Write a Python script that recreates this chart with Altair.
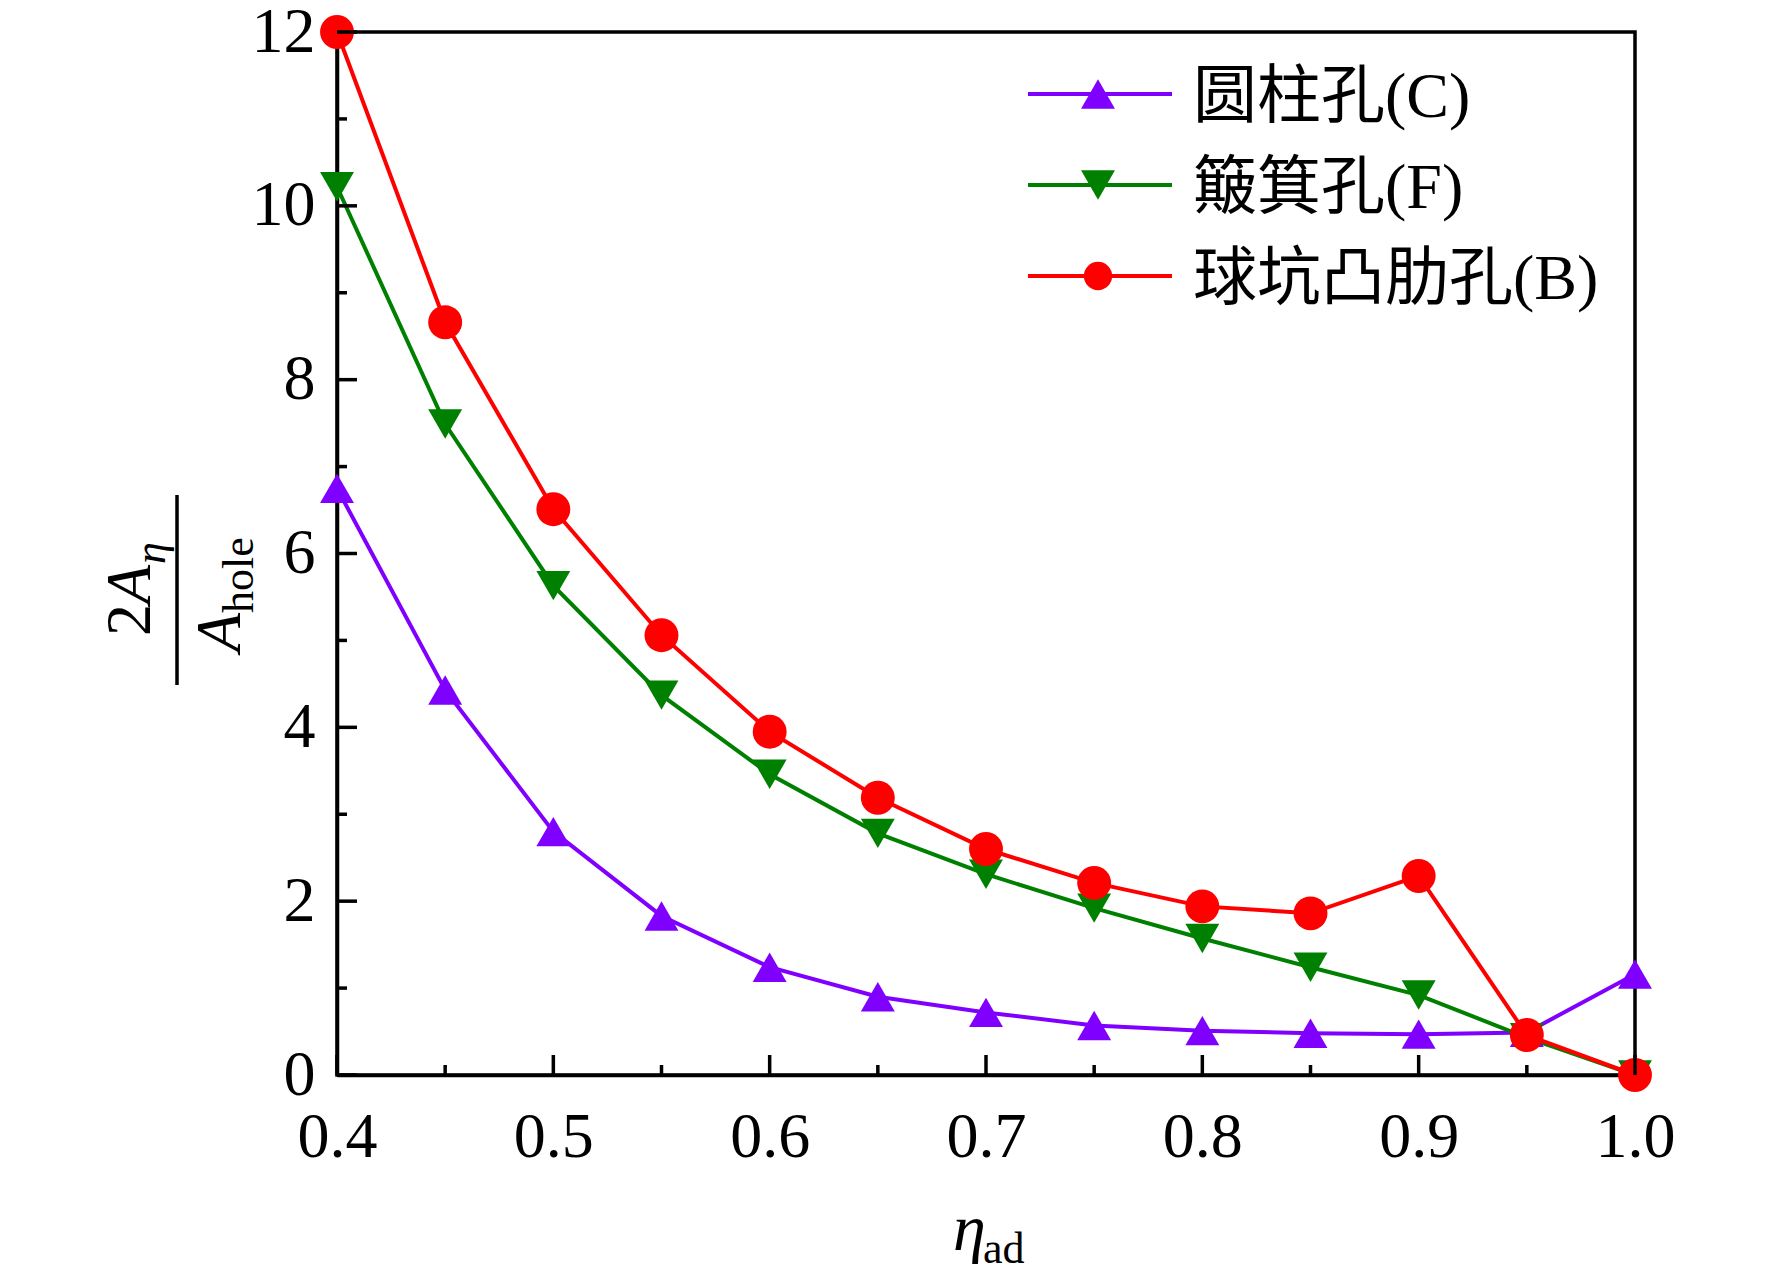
import altair as alt
import pandas as pd

# ---------------- data ----------------
eta = [0.4, 0.45, 0.5, 0.55, 0.6, 0.65, 0.7, 0.75, 0.8, 0.85, 0.9, 0.95, 1.0]
c_vals = [6.75, 4.43, 2.80, 1.83, 1.24, 0.90, 0.72, 0.57, 0.51, 0.48, 0.47, 0.49, 1.16]
f_vals = [10.22, 7.49, 5.63, 4.37, 3.46, 2.78, 2.31, 1.92, 1.57, 1.24, 0.92, 0.43, 0.0]
b_vals = [12.0, 8.66, 6.51, 5.06, 3.95, 3.19, 2.60, 2.21, 1.94, 1.86, 2.29, 0.46, 0.0]
names = ["圆柱孔(C)", "簸箕孔(F)", "球坑凸肋孔(B)"]

x_major = [0.4, 0.5, 0.6, 0.7, 0.8, 0.9, 1.0]
x_minor = [0.45, 0.55, 0.65, 0.75, 0.85, 0.95]
y_major = [0, 2, 4, 6, 8, 10, 12]
y_minor = [1, 3, 5, 7, 9, 11]

# ---------------- style ----------------
colors = ["#8000FF", "#008000", "#FF0000"]
shapes = ["triangle-up", "triangle-down", "circle"]
sizes = [1150, 1150, 800]
W, H = 1298, 1043
FONT = "Liberation Serif, 'Noto Sans CJK SC'"
LW = 4

rows = []
for name, vals in zip(names, [c_vals, f_vals, b_vals]):
    for e, v in zip(eta, vals):
        rows.append({"eta": e, "val": v, "series": name})
df = pd.DataFrame(rows)

xscale = alt.Scale(domain=[0.4, 1.0], nice=False, zero=False)
yscale = alt.Scale(domain=[0, 12], nice=False, zero=False)
xaxis = alt.Axis(values=x_major, format=".1f", labelFont=FONT, labelFontSize=64,
                 labelColor="black", domainColor="black", domainWidth=3.5,
                 ticks=False, tickSize=0, grid=False, title=None, labelPadding=30,
                 labelFlush=False, labelOverlap=False)
yaxis = alt.Axis(values=y_major, format="d", labelFont=FONT, labelFontSize=64,
                 labelColor="black", domainColor="black", domainWidth=3.5,
                 ticks=False, tickSize=0, grid=False, title=None, labelPadding=22,
                 labelFlush=False, labelOverlap=False)

X = alt.X("eta:Q", scale=xscale, axis=xaxis)
Y = alt.Y("val:Q", scale=yscale, axis=yaxis)

color = alt.Color("series:N", scale=alt.Scale(domain=names, range=colors), legend=None)
shape = alt.Shape("series:N", scale=alt.Scale(domain=names, range=shapes), legend=None)
size = alt.Size("series:N", scale=alt.Scale(domain=names, range=sizes), legend=None)

lines = alt.Chart(df).mark_line(strokeWidth=LW).encode(x=X, y=Y, color=color, detail="series:N")
points = alt.Chart(df).mark_point(filled=True, opacity=1).encode(
    x=X, y=Y, color=color, shape=shape, size=size)

# inward ticks
def xticks(vals, length):
    d = pd.DataFrame({"eta": vals})
    return alt.Chart(d).mark_rule(color="black", strokeWidth=3.5).encode(
        x=X, y=alt.value(H), y2=alt.value(H - length))

def yticks(vals, length):
    d = pd.DataFrame({"val": vals})
    return alt.Chart(d).mark_rule(color="black", strokeWidth=3.5).encode(
        y=Y, x=alt.value(0), x2=alt.value(length))

one = pd.DataFrame({"k": [0]})

def txt(s, x, y, size, italic=False, angle=0, align="left", baseline="alphabetic"):
    kw = dict(font=FONT, fontSize=size, color="black", align=align, baseline=baseline)
    if italic:
        kw["fontStyle"] = "italic"
    if angle:
        kw["angle"] = angle
    return alt.Chart(pd.DataFrame({"t": [s]})).mark_text(**kw).encode(
        text="t:N", x=alt.value(x), y=alt.value(y))

# y-axis title: 2A_eta / A_hole (rotated)
ytitle = [
    alt.Chart(one).mark_rule(color="black", strokeWidth=3.5).encode(
        x=alt.value(-160), y=alt.value(463), y2=alt.value(653)),
    txt("2", -187, 604, 64, angle=270),
    txt("A", -187, 572, 64, italic=True, angle=270),
    txt("η", -172, 532, 44, italic=True, angle=270),
    txt("A", -97, 620, 64, italic=True, angle=270),
    txt("hole", -84, 581, 44, angle=270),
]

# x-axis title: eta_ad
xtitle = [
    txt("η", 616, 1218, 66, italic=True),
    txt("ad", 646, 1231, 44),
]

# legend
legend = []
row_y = [62, 153, 244]
for name, col, shp, sz, ry in zip(names, colors, shapes, sizes, row_y):
    legend.append(alt.Chart(one).mark_rule(color=col, strokeWidth=LW).encode(
        x=alt.value(691), x2=alt.value(835), y=alt.value(ry)))
    legend.append(alt.Chart(one).mark_point(filled=True, opacity=1, color=col,
                                            shape=shp, size=sz).encode(
        x=alt.value(761), y=alt.value(ry)))
    legend.append(txt(name, 856, ry + 4, 64, baseline="middle"))

chart = alt.layer(
    lines, points,
    xticks(x_major, 20), xticks(x_minor, 10),
    yticks(y_major, 20), yticks(y_minor, 10),
    *ytitle, *xtitle, *legend,
).properties(
    width=W, height=H,
    autosize="none",
    padding={"left": 329, "top": 24, "right": 100, "bottom": 200},
    background="white",
).configure_view(stroke="black", strokeWidth=3.5)

chart.save("out.html", embed_options={"renderer": "svg", "actions": False})
